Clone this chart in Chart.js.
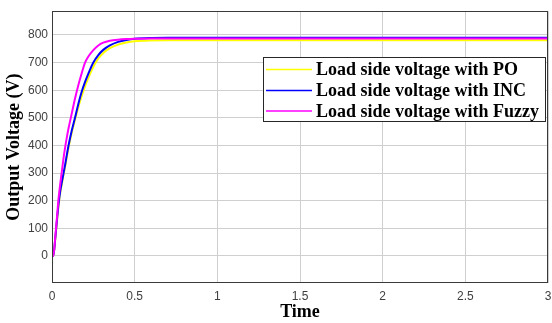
<!DOCTYPE html>
<html>
<head>
<meta charset="utf-8">
<script src="https://cdn.jsdelivr.net/npm/chart.js@4.4.1/dist/chart.umd.min.js"></script>
<style>
html,body{margin:0;padding:0;background:#fff;}
#wrap{width:552px;height:323px;position:relative;}
</style>
</head>
<body>
<div id="wrap"><canvas id="c" width="552" height="323"></canvas></div>
<script>
const times = [0,0.008,0.02,0.03,0.04,0.05,0.06,0.07,0.08,0.09,0.10,0.12,0.14,0.16,0.18,0.20,0.22,0.25,0.28,0.31,0.35,0.40,0.45,0.50,0.60,0.70,0.80,1.0,1.5,2.0,2.5,3.0];
const poValues    = [0,0,62,125,185,230,262,295,325,360,392,448,495,540,580,615,645,685,715,735,752,765,773,777,780,781,781,781,781,781,781,781];
const incValues   = [0,0,65,130,190,235,268,300,332,367,400,455,502,552,595,630,660,700,727,746,762,775,782,786,789,790,790,790,790,790,790,790];
const fuzzyValues = [0,0,70,140,210,262,308,355,395,430,462,517,572,620,662,700,722,745,762,772,779,783,785,786,787,787,787,787,787,787,787,787];
const seriesNames = ['Load side voltage with PO','Load side voltage with INC','Load side voltage with Fuzzy'];
const seriesColors = ['#ffff00','#0000ff','#ff00ff'];
const xTicks = [0,0.5,1,1.5,2,2.5,3];
const yTicks = [0,100,200,300,400,500,600,700,800];
const xTitle = 'Time';
const yTitle = 'Output Voltage (V)';

function pts(vals){ return times.map((t,i)=>({x:t,y:vals[i]})); }

const boxLegend = {
  id:'boxLegend',
  afterDraw(chart){
    const ctx = chart.ctx, a = chart.chartArea;
    ctx.save();
    ctx.strokeStyle = '#3a3a3a';
    ctx.lineWidth = 1;
    ctx.strokeRect(Math.round(a.left)+0.5, Math.round(a.top)+0.5, Math.round(a.right-a.left)-1, Math.round(a.bottom-a.top)-1);
    // legend
    const lx = 263, ly = 57, lw = 282, lh = 64;
    ctx.fillStyle = '#fff';
    ctx.fillRect(lx, ly, lw, lh);
    ctx.strokeStyle = '#262626';
    ctx.strokeRect(lx+0.5, ly+0.5, lw, lh);
    ctx.font = 'bold 18px "Liberation Serif", "Times New Roman", serif';
    ctx.textBaseline = 'middle';
    const rows = [69.5, 90.5, 111];
    seriesNames.forEach((n,i)=>{
      ctx.strokeStyle = seriesColors[i];
      ctx.lineWidth = 1.5;
      ctx.beginPath(); ctx.moveTo(266, rows[i]); ctx.lineTo(312, rows[i]); ctx.stroke();
      ctx.fillStyle = '#000';
      ctx.fillText(n, 316, rows[i]+1);
    });
    ctx.restore();
  }
};

new Chart(document.getElementById('c'), {
  type:'line',
  data:{
    datasets:[
      {label:seriesNames[0], data:pts(poValues), borderColor:seriesColors[0], order:2},
      {label:seriesNames[1], data:pts(incValues), borderColor:seriesColors[1], order:1},
      {label:seriesNames[2], data:pts(fuzzyValues), borderColor:seriesColors[2], order:0}
    ]
  },
  options:{
    responsive:false,
    animation:false,
    devicePixelRatio:1,
    layout:{padding:{top:8,right:0,left:0,bottom:0}},
    elements:{point:{radius:0}, line:{borderWidth:2, cubicInterpolationMode:'monotone', fill:false}},
    plugins:{legend:{display:false}, tooltip:{enabled:false}},
    scales:{
      x:{
        type:'linear', min:0, max:3,
        afterBuildTicks(s){ s.ticks = xTicks.map(v=>({value:v})); },
        afterFit(s){ s.height = 40; s.paddingRight = 4; },
        grid:{color:'#cfcfcf', drawTicks:false},
        border:{display:false},
        ticks:{color:'#404040', padding:6, maxRotation:0, font:{family:'"Liberation Sans", Arial, sans-serif', size:12}, callback:v=>String(v)},
        title:{display:true, text:xTitle, color:'#000', padding:{top:0,bottom:0}, font:{family:'"Liberation Serif", "Times New Roman", serif', size:18, weight:'bold'}}
      },
      y:{
        type:'linear', min:-98, max:886,
        afterBuildTicks(s){ s.ticks = yTicks.map(v=>({value:v})); },
        afterFit(s){ s.width = 52; },
        grid:{color:'#cfcfcf', drawTicks:false},
        border:{display:false},
        ticks:{color:'#404040', padding:4, font:{family:'"Liberation Sans", Arial, sans-serif', size:12}, callback:v=>String(v)},
        title:{display:true, text:yTitle, color:'#000', padding:{top:4,bottom:0}, font:{family:'"Liberation Serif", "Times New Roman", serif', size:18, weight:'bold'}}
      }
    }
  },
  plugins:[boxLegend]
});
</script>
</body>
</html>
